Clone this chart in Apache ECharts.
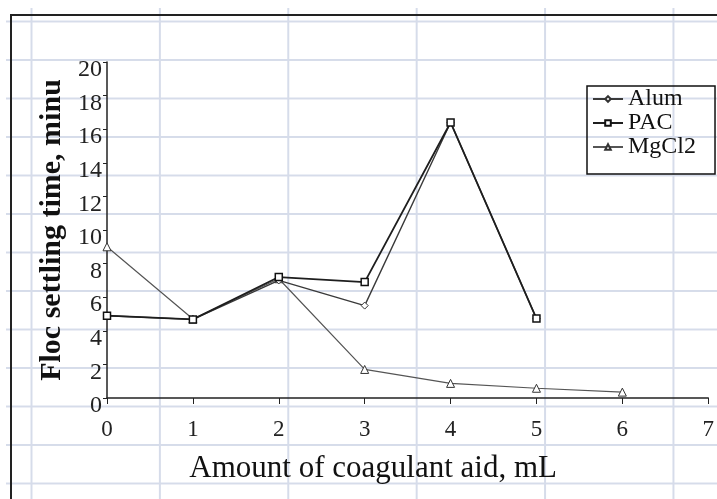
<!DOCTYPE html>
<html>
<head>
<meta charset="utf-8">
<script src="https://cdn.jsdelivr.net/npm/echarts@6/dist/echarts.min.js"></script>
<style>
    html, body { margin: 0; padding: 0; background: #fff; }
    /* spreadsheet cells behind the chart */
    #sheet {
        position: absolute; left: 6px; top: 8px; width: 711px; height: 491px;
        background-image:
            linear-gradient(to right, #d6dcea 2px, transparent 2px),
            linear-gradient(to bottom, #d6dcea 2px, transparent 2px);
        background-size: 128.4px 38.5px;
        background-position: 24.5px 12.5px;
    }
    #main { position: absolute; left: 0; top: 0; width: 717px; height: 499px; }
</style>
</head>
<body>
<div id="sheet"></div>
<div id="main"></div>
<script>
// 数据
var doses = [0, 1, 2, 3, 4, 5, 6];
var alum = [4.9, 4.68, 7.0, 5.5, 16.4, 4.73];
var pac = [4.9, 4.68, 7.2, 6.9, 16.4, 4.73];
var mgcl2 = [9.0, 4.7, 7.1, 1.7, 0.87, 0.58, 0.35];
var yTicks = [0, 20, 2];
var xTicks = [0, 7, 1];

var serif = 'Liberation Serif';

function pairs(values) {
    return values.map(function(v, i) {
        return [doses[i], v];
    });
}

var chart = echarts.init(document.getElementById('main'));

chart.setOption({
    animation: false,
    backgroundColor: 'transparent',
    graphic: [{
        //图表外框
        type: 'rect',
        shape: { x: 11, y: 15, width: 800, height: 600 },
        style: { fill: 'none', stroke: '#222', lineWidth: 2 },
        z: -1
    }],
    grid: { left: 107, top: 62, right: 5, bottom: 101 },
    legend: {
        orient: 'vertical',
        left: 587,
        top: 86,
        padding: [1, 19, 15, 5],
        itemGap: 0,
        itemWidth: 30,
        itemHeight: 7,
        borderColor: '#111',
        borderWidth: 1.5,
        textStyle: {
            fontFamily: serif,
            fontSize: 24,
            lineHeight: 13,
            padding: [10, 0, 0, 0],
            color: '#111'
        },
        data: ['Alum', 'PAC', 'MgCl2']
    },
    xAxis: {
        type: 'value',
        min: xTicks[0],
        max: xTicks[1],
        interval: xTicks[2],
        name: 'Amount of coagulant aid, mL',
        nameLocation: 'middle',
        nameGap: 55,
        nameTextStyle: {
            fontFamily: serif, fontSize: 31, color: '#111',
            padding: [0, 69, 0, 0]
        },
        splitLine: { show: false },
        axisLine: { lineStyle: { color: '#222', width: 1.5 } },
        axisTick: { show: true, length: 6, lineStyle: { color: '#222' } },
        axisLabel: {
            fontFamily: serif, fontSize: 23, color: '#222', margin: 20
        }
    },
    yAxis: {
        type: 'value',
        min: yTicks[0],
        max: yTicks[1],
        interval: yTicks[2],
        name: 'Floc settling time, minu',
        nameLocation: 'middle',
        nameGap: 38,
        nameTextStyle: {
            fontFamily: serif, fontSize: 30, fontWeight: 'bold', color: '#111'
        },
        splitLine: { show: false },
        axisLine: { show: true, lineStyle: { color: '#222', width: 1.5 } },
        axisTick: { show: true, length: 4, lineStyle: { color: '#222' } },
        axisLabel: {
            fontFamily: serif, fontSize: 24, color: '#222', margin: 5,
            verticalAlign: 'top',
            lineHeight: 16
        }
    },
    series: [{
        name: 'Alum',
        type: 'line',
        data: pairs(alum),
        symbol: 'diamond',
        symbolSize: 7,
        itemStyle: { color: '#fff', borderColor: '#333', borderWidth: 1 },
        lineStyle: { color: '#3a3a3a', width: 1.4 },
        z: 3
    }, {
        name: 'PAC',
        type: 'line',
        data: pairs(pac),
        symbol: 'rect',
        symbolSize: 7,
        itemStyle: { color: '#fff', borderColor: '#111', borderWidth: 1.5 },
        lineStyle: { color: '#1e1e1e', width: 1.8 },
        z: 4
    }, {
        name: 'MgCl2',
        type: 'line',
        data: pairs(mgcl2),
        symbol: 'triangle',
        symbolSize: 8,
        itemStyle: { color: '#fff', borderColor: '#333', borderWidth: 1 },
        lineStyle: { color: '#555', width: 1.2 },
        z: 2
    }]
});
</script>
</body>
</html>
